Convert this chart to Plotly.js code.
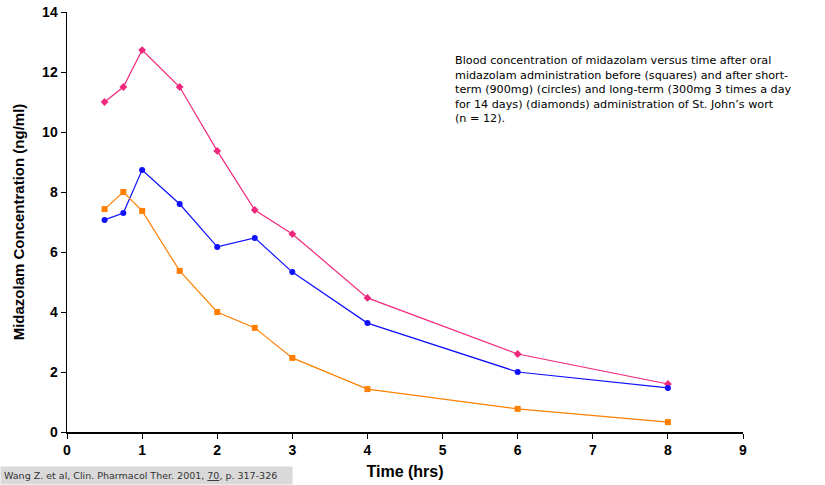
<!DOCTYPE html>
<html>
<head>
<meta charset="utf-8">
<script src="https://cdn.plot.ly/plotly-3.0.1.min.js"></script>
<style>html,body{margin:0;padding:0;background:#fff;}#chart{width:825px;height:485px;}</style>
</head>
<body>
<div id="chart"></div>
<script>
const timeHrs = [0.5, 0.75, 1, 1.5, 2, 2.5, 3, 4, 6, 8];
const before = [7.43, 8.0, 7.37, 5.37, 4.0, 3.47, 2.47, 1.43, 0.77, 0.33];
const shortTerm = [7.07, 7.3, 8.73, 7.6, 6.17, 6.47, 5.33, 3.63, 2.0, 1.47];
const longTerm = [11.0, 11.5, 12.73, 11.5, 9.37, 7.4, 6.6, 4.47, 2.6, 1.6];
const xTicks = [0,1,2,3,4,5,6,7,8,9];
const yTicks = [0,2,4,6,8,10,12,14];

const traces = [
  {x: timeHrs, y: longTerm, mode: 'lines+markers', name: 'Long-term',
   line: {color: '#f0287d', width: 1.2}, marker: {symbol: 'diamond', size: 6, color: '#f0287d'}},
  {x: timeHrs, y: shortTerm, mode: 'lines+markers', name: 'Short-term',
   line: {color: '#1010ff', width: 1.2}, marker: {symbol: 'circle', size: 6, color: '#1010ff'}},
  {x: timeHrs, y: before, mode: 'lines+markers', name: 'Before',
   line: {color: '#ff8000', width: 1.2}, marker: {symbol: 'square', size: 6, color: '#ff8000'}}
];

const L = 67, R = 82, T = 12, B = 53, W = 825, H = 485;
const pw = W - L - R, ph = H - T - B;
const px = v => (v - L) / pw;
const py = v => (H - B - v) / ph;

const layout = {
  width: W, height: H,
  margin: {l: L, r: R, t: T, b: B},
  paper_bgcolor: '#fff', plot_bgcolor: '#fff',
  showlegend: false,
  font: {family: 'Liberation Sans, Arial, sans-serif', color: '#000'},
  xaxis: {
    range: [0, 9], tickvals: xTicks, ticktext: xTicks.map(String),
    showgrid: false, zeroline: false, showline: true, linecolor: '#000', linewidth: 1.5,
    ticks: 'outside', ticklen: 5, tickcolor: '#000',
    tickfont: {size: 14, family: 'Liberation Sans, Arial, sans-serif', weight: 'bold'},
    title: {text: '<b>Time (hrs)</b>', font: {size: 16}, standoff: 8}
  },
  yaxis: {
    range: [0, 14], tickvals: yTicks, ticktext: yTicks.map(String),
    showgrid: false, zeroline: false, showline: true, linecolor: '#000', linewidth: 1.5,
    ticks: 'outside', ticklen: 5, tickcolor: '#000',
    tickfont: {size: 14, family: 'Liberation Sans, Arial, sans-serif', weight: 'bold'},
    title: {text: '<b>Midazolam Concentration (ng/ml)</b>', font: {size: 15}, standoff: 14}
  },
  annotations: [
    {xref: 'paper', yref: 'paper', x: px(453), y: py(52), xanchor: 'left', yanchor: 'top',
     align: 'left', showarrow: false,
     font: {family: 'DejaVu Sans, Verdana, sans-serif', size: 11.2, color: '#000'},
     text: 'Blood concentration of midazolam versus time after oral<br>midazolam administration before (squares) and after short-<br>term (900mg) (circles) and long-term (300mg 3 times a day<br>for 14 days) (diamonds) administration of St. John’s wort<br>(n = 12).'},
    {xref: 'paper', yref: 'paper', x: px(0), y: py(485), xanchor: 'left', yanchor: 'bottom',
     showarrow: false, bgcolor: '#d9d9d9', borderpad: 3,
     font: {family: 'DejaVu Sans, Verdana, sans-serif', size: 9.5, color: '#333'},
     text: 'Wang Z. et al, Clin. Pharmacol Ther. 2001, <u>70</u>, p. 317-326    '}
  ]
};

Plotly.newPlot('chart', traces, layout, {displayModeBar: false, staticPlot: true});
</script>
</body>
</html>
